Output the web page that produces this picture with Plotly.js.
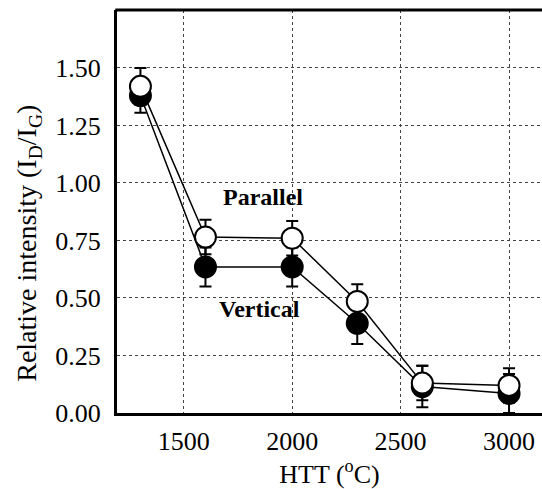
<!DOCTYPE html>
<html><head><meta charset="utf-8">
<script src="https://cdn.plot.ly/plotly-3.0.1.min.js"></script>
<style>html,body{margin:0;padding:0;background:#fff}</style>
</head><body><div id="plot" style="width:542px;height:489px"></div>
<script>
const htt = [1300, 1600, 2000, 2300, 2600, 3000];
const parallel = [1.42, 0.765, 0.76, 0.485, 0.13, 0.12];
const parallelErr = [0.08, 0.075, 0.075, 0.075, 0.075, 0.075];
const vertical = [1.38, 0.635, 0.635, 0.39, 0.115, 0.085];
const verticalErr = [0.075, 0.085, 0.085, 0.09, 0.09, 0.085];
const xTicks = [1500, 2000, 2500, 3000];
const yTicks = [0, 0.25, 0.5, 0.75, 1.0, 1.25, 1.5];
const yTickText = ['0.00', '0.25', '0.50', '0.75', '1.00', '1.25', '1.50'];

const serif = 'Liberation Serif';

const traces = [
  {
    x: htt, y: vertical, type: 'scatter', mode: 'lines+markers', name: 'Vertical',
    line: {color: '#000', width: 1.5},
    marker: {symbol: 'circle', size: 21, color: '#000', line: {color: '#000', width: 2}},
    error_y: {type: 'data', array: verticalErr, visible: true, color: '#000', thickness: 2, width: 6}
  },
  {
    x: htt, y: parallel, type: 'scatter', mode: 'lines+markers', name: 'Parallel',
    line: {color: '#000', width: 1.5},
    marker: {symbol: 'circle', size: 21, color: '#fff', line: {color: '#000', width: 2}},
    error_y: {type: 'data', array: parallelErr, visible: true, color: '#000', thickness: 2, width: 6}
  }
];

const layout = {
  width: 542, height: 489,
  margin: {l: 117, r: 0, t: 10, b: 76},
  paper_bgcolor: '#fff', plot_bgcolor: '#fff',
  showlegend: false,
  font: {family: serif, color: '#000', size: 26},
  xaxis: {
    range: [1192, 3152],
    tickvals: xTicks, ticktext: xTicks.map(String),
    ticks: '', ticklabelstandoff: 3,
    showgrid: true, gridcolor: '#444', griddash: 'dot', gridwidth: 1,
    showline: true, linecolor: '#000', linewidth: 3,
    zeroline: false,
    tickfont: {family: serif, size: 26, color: '#000'},
    title: {text: 'HTT (<sup>o</sup>C)', font: {family: serif, size: 26, color: '#000'}, standoff: 4}
  },
  yaxis: {
    range: [0, 1.752],
    tickvals: yTicks, ticktext: yTickText,
    ticks: '', ticklabelstandoff: 8,
    showgrid: true, gridcolor: '#444', griddash: 'dot', gridwidth: 1,
    showline: true, linecolor: '#000', linewidth: 3,
    zeroline: false,
    tickfont: {family: serif, size: 26, color: '#000'}
  },
  shapes: [
    {type: 'line', xref: 'paper', yref: 'paper', x0: -0.004, x1: 1, y0: 1, y1: 1, line: {color: '#000', width: 3}}
  ],
  annotations: [
    {x: -0.207, y: 0.42, xref: 'paper', yref: 'paper', xanchor: 'center', yanchor: 'middle', textangle: -90,
     text: 'Relative intensity (I<sub>D</sub>/I<sub>G</sub>)', showarrow: false,
     font: {family: serif, size: 28, color: '#000'}},
    {x: 1865, y: 0.94, xref: 'x', yref: 'y', text: '<b>Parallel</b>', showarrow: false,
     font: {family: serif, size: 24, color: '#000'}},
    {x: 1848, y: 0.45, xref: 'x', yref: 'y', text: '<b>Vertical</b>', showarrow: false,
     font: {family: serif, size: 24, color: '#000'}}
  ]
};

Plotly.newPlot('plot', traces, layout, {displayModeBar: false, staticPlot: true});
</script>
</body></html>
